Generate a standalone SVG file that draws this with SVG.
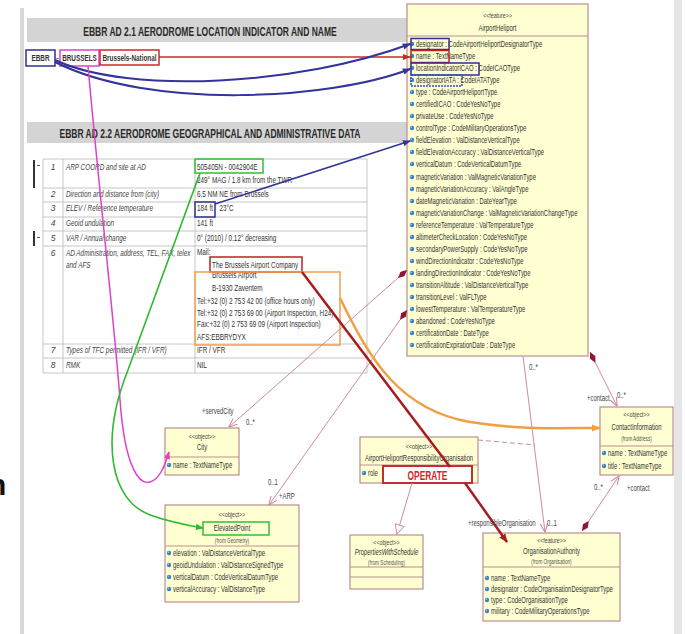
<svg xmlns="http://www.w3.org/2000/svg" width="685" height="634" viewBox="0 0 685 634">
<style>
text{font-family:"Liberation Sans",Arial,sans-serif}
.hd{font-size:13.5px;font-weight:bold;fill:#2a2a2a}
.band{fill:#d4d4d4}
.t{font-size:8.5px;fill:#333}
.ti{font-size:8.5px;fill:#444;font-style:italic}
.b{font-weight:bold}
.u{font-size:9px;fill:#333}
.st{font-size:8px;fill:#444}
.us{font-size:6.5px;fill:#555}
.c{text-anchor:middle}
.it{font-style:italic}
.box{fill:#ffffd2;stroke:#b98e8e;stroke-width:1.2}
.sep{stroke:#b98e8e;stroke-width:1}
.grid{stroke:#b8b8b8;stroke-width:.8;fill:none}
.hl{fill:none;stroke-width:1.5}
.as{fill:none;stroke:#cc8c9e;stroke-width:1}
.lab{font-size:8.5px;fill:#444}
</style>
<defs>
<g id="ic"><circle r="2.2" fill="#3b7fd0"/><circle cx="-.7" cy="-.7" r=".8" fill="#a8d0f4"/></g>
<marker id="aB" viewBox="0 0 10 10" refX="9" refY="5" markerWidth="8" markerHeight="8" markerUnits="userSpaceOnUse" orient="auto"><path d="M0,1 L10,5 L0,9 z" fill="#33339a"/></marker>
<marker id="aR" viewBox="0 0 10 10" refX="9" refY="5" markerWidth="8" markerHeight="8" markerUnits="userSpaceOnUse" orient="auto"><path d="M0,1 L10,5 L0,9 z" fill="#d02828"/></marker>
<marker id="aM" viewBox="0 0 10 10" refX="9" refY="5" markerWidth="8" markerHeight="8" markerUnits="userSpaceOnUse" orient="auto"><path d="M0,1 L10,5 L0,9 z" fill="#e040c8"/></marker>
<marker id="aG" viewBox="0 0 10 10" refX="9" refY="5" markerWidth="8" markerHeight="8" markerUnits="userSpaceOnUse" orient="auto"><path d="M0,1 L10,5 L0,9 z" fill="#30b830"/></marker>
<marker id="aO" viewBox="0 0 10 10" refX="9" refY="5" markerWidth="9" markerHeight="9" markerUnits="userSpaceOnUse" orient="auto"><path d="M0,1 L10,5 L0,9 z" fill="#f0a040"/></marker>
<marker id="aD" viewBox="0 0 10 10" refX="9" refY="5" markerWidth="9" markerHeight="9" markerUnits="userSpaceOnUse" orient="auto"><path d="M0,1 L10,5 L0,9 z" fill="#a81c1c"/></marker>
<marker id="aP" viewBox="0 0 10 10" refX="9.5" refY="5" markerWidth="9" markerHeight="9" markerUnits="userSpaceOnUse" orient="auto"><path d="M0,1 L10,5 L0,9" fill="none" stroke="#cc8c9e" stroke-width="1.2"/></marker>
<marker id="tri" viewBox="0 0 12 12" refX="11" refY="6" markerWidth="11" markerHeight="11" markerUnits="userSpaceOnUse" orient="auto"><path d="M1,1 L11,6 L1,11 z" fill="#fff" stroke="#cc8c9e" stroke-width="1"/></marker>
<marker id="dia" viewBox="0 0 12 6" refX="0" refY="3" markerWidth="12" markerHeight="6" markerUnits="userSpaceOnUse" orient="auto"><path d="M0,3 L6,0 L12,3 L6,6 z" fill="#8c1838"/></marker>
</defs>

<rect x="20" y="8" width="4" height="626" fill="#d8d8d8"/>
<rect x="674" y="0" width="8" height="634" fill="#e6e6e6"/>
<text x="-12" y="495" style="font-size:30px;font-weight:bold;fill:#111">n</text>

<g id="section21">
<rect class="band" x="27" y="18" width="380" height="24"/>
<text class="hd c" transform="translate(210,36) scale(.63,1)">EBBR AD 2.1  AERODROME LOCATION INDICATOR AND NAME</text>
<rect class="hl" x="26" y="50" width="29" height="16" stroke="#303090"/>
<text class="t b c" transform="translate(40.5,61) scale(.75,1)">EBBR</text>
<text class="t" x="56" y="61">-</text>
<rect class="hl" x="60" y="50" width="39" height="16" stroke="#e040d0"/>
<text class="t b c" transform="translate(79.5,61) scale(.75,1)">BRUSSELS</text>
<rect class="hl" x="100" y="50" width="59" height="15" stroke="#d02828"/>
<text class="t b c" transform="translate(129.5,61) scale(.75,1)">Brussels-National</text>
</g>

<g id="section22">
<rect class="band" x="27" y="122" width="380" height="21"/>
<text class="hd c" transform="translate(210,138) scale(.63,1)">EBBR AD 2.2  AERODROME GEOGRAPHICAL AND ADMINISTRATIVE DATA</text>
<path class="grid" d="M43,159H367M43,188H367M43,202H367M43,217H367M43,231H367M43,246H367M43,344H367M43,358H367M43,373H367M43,159V373M63,159V373M195,159V373M367,159V373"/>
<rect x="33" y="160" width="2" height="28" fill="#333"/>
<rect x="37" y="165" width="3" height="1" fill="#555"/>
<rect x="33" y="231" width="2" height="15" fill="#333"/>
<rect x="37" y="237" width="3" height="1" fill="#555"/>
<g class="ti c">
<text x="53" y="170">1</text><text x="53" y="197">2</text><text x="53" y="211">3</text><text x="53" y="226">4</text><text x="53" y="241">5</text><text x="53" y="256">6</text><text x="53" y="353">7</text><text x="53" y="368">8</text>
</g>
<g class="ti" transform="translate(66,0) scale(.75,1)">
<text y="170">ARP COORD and site at AD</text>
<text y="197">Direction and distance from (city)</text>
<text y="211">ELEV / Reference temperature</text>
<text y="226">Geoid undulation</text>
<text y="241">VAR / Annual change</text>
<text y="256">AD Administration, address, TEL, FAX, telex</text>
<text y="268">and AFS</text>
<text y="353">Types of TFC permitted (IFR / VFR)</text>
<text y="368">RMK</text>
</g>
<g class="t" transform="translate(197,0) scale(.75,1)">
<text y="170">505405N - 0042904E</text>
<text y="183">249° MAG / 1.8 km from the TWR</text>
<text y="197">6.5 NM NE from Brussels</text>
<text y="211">184 ft</text>
<text x="30" y="211">23°C</text>
<text y="226">141 ft</text>
<text y="241">0° (2010) / 0.12° decreasing</text>
<text y="255">Mail:</text>
<text x="20" y="268">The Brussels Airport Company</text>
<text x="20" y="278">Brussels Airport</text>
<text x="20" y="291">B-1930 Zaventem</text>
<text y="304">Tel:+32 (0) 2 753 42 00 (office hours only)</text>
<text y="316">Tel:+32 (0) 2 753 69 00 (Airport Inspection, H24)</text>
<text y="327">Fax:+32 (0) 2 753 69 09 (Airport Inspection)</text>
<text y="340">AFS:EBBRYDYX</text>
<text y="353">IFR / VFR</text>
<text y="368">NIL</text>
</g>
<rect class="hl" x="195" y="159" width="68" height="14" stroke="#30c030"/>
<rect class="hl" x="195" y="202" width="20" height="15" stroke="#303090"/>
<rect class="hl" x="210" y="257" width="92" height="15" stroke="#c02020"/>
<rect class="hl" x="195" y="272" width="145" height="73" stroke="#f0a050"/>
</g>

<g id="AirportHeliport">
<rect class="box" x="407" y="4" width="181" height="352"/>
<line class="sep" x1="407" y1="36" x2="588" y2="36"/>
<text class="st c" transform="translate(497.5,18) scale(.66,1)">&lt;&lt;feature&gt;&gt;</text>
<text class="u c" transform="translate(497.5,31) scale(.66,1)">AirportHeliport</text>
<g>
<use href="#ic" x="412" y="44"/><use href="#ic" x="412" y="56"/><use href="#ic" x="412" y="68"/><use href="#ic" x="412" y="80"/><use href="#ic" x="412" y="92"/><use href="#ic" x="412" y="104"/><use href="#ic" x="412" y="116"/><use href="#ic" x="412" y="128"/><use href="#ic" x="412" y="140"/><use href="#ic" x="412" y="152"/><use href="#ic" x="412" y="164"/><use href="#ic" x="412" y="177"/><use href="#ic" x="412" y="189"/><use href="#ic" x="412" y="201"/><use href="#ic" x="412" y="213"/><use href="#ic" x="412" y="225"/><use href="#ic" x="412" y="237"/><use href="#ic" x="412" y="249"/><use href="#ic" x="412" y="261"/><use href="#ic" x="412" y="273"/><use href="#ic" x="412" y="285"/><use href="#ic" x="412" y="297"/><use href="#ic" x="412" y="309"/><use href="#ic" x="412" y="321"/><use href="#ic" x="412" y="333"/><use href="#ic" x="412" y="345"/>
</g>
<g class="u" transform="translate(416,0) scale(.66,1)">
<text y="47">designator : CodeAirportHeliportDesignatorType</text>
<text y="59.1">name : TextNameType</text>
<text y="71.1">locationIndicatorICAO : CodeICAOType</text>
<text y="83.2">designatorIATA : CodeIATAType</text>
<text y="95.2">type : CodeAirportHeliportType</text>
<text y="107.3">certifiedICAO : CodeYesNoType</text>
<text y="119.3">privateUse : CodeYesNoType</text>
<text y="131.4">controlType : CodeMilitaryOperationsType</text>
<text y="143.4">fieldElevation : ValDistanceVerticalType</text>
<text y="155.5">fieldElevationAccuracy : ValDistanceVerticalType</text>
<text y="167.5">verticalDatum : CodeVerticalDatumType</text>
<text y="179.6">magneticVariation : ValMagneticVariationType</text>
<text y="191.6">magneticVariationAccuracy : ValAngleType</text>
<text y="203.7">dateMagneticVariation : DateYearType</text>
<text y="215.7">magneticVariationChange : ValMagneticVariationChangeType</text>
<text y="227.8">referenceTemperature : ValTemperatureType</text>
<text y="239.8">altimeterCheckLocation : CodeYesNoType</text>
<text y="251.9">secondaryPowerSupply : CodeYesNoType</text>
<text y="263.9">windDirectionIndicator : CodeYesNoType</text>
<text y="276">landingDirectionIndicator : CodeYesNoType</text>
<text y="288">transitionAltitude : ValDistanceVerticalType</text>
<text y="300.1">transitionLevel : ValFLType</text>
<text y="312.1">lowestTemperature : ValTemperatureType</text>
<text y="324.2">abandoned : CodeYesNoType</text>
<text y="336.2">certificationDate : DateType</text>
<text y="348.3">certificationExpirationDate : DateType</text>
</g>
<rect class="hl" x="411" y="38.5" width="38" height="11" stroke="#303090"/>
<rect class="hl" x="411" y="50.5" width="38" height="12" stroke="#c02020"/>
<rect class="hl" x="411" y="63" width="68" height="12" stroke="#303090"/>
<rect class="hl" x="411" y="75" width="51" height="11" stroke="#3050c0" stroke-dasharray="2 1"/>
</g>

<g id="City">
<rect class="box" x="165" y="428" width="74" height="47"/>
<line class="sep" x1="165" y1="457" x2="239" y2="457"/>
<text class="st c" transform="translate(202,439) scale(.66,1)">&lt;&lt;object&gt;&gt;</text>
<text class="u c" transform="translate(202,450) scale(.66,1)">City</text>
<use href="#ic" x="169" y="465"/>
<text class="u" transform="translate(173,468) scale(.66,1)">name : TextNameType</text>
</g>

<g id="ElevatedPoint">
<rect class="box" x="165" y="505" width="134" height="97"/>
<line class="sep" x1="165" y1="546" x2="299" y2="546"/>
<text class="st c" transform="translate(232,517) scale(.66,1)">&lt;&lt;object&gt;&gt;</text>
<text class="u c" transform="translate(232,531) scale(.66,1)">ElevatedPoint</text>
<text class="us c" transform="translate(232,543) scale(.72,1)">(from Geometry)</text>
<rect class="hl" x="203" y="522" width="66" height="13" stroke="#30c030"/>
<use href="#ic" x="169" y="553"/><use href="#ic" x="169" y="565"/><use href="#ic" x="169" y="577"/><use href="#ic" x="169" y="589"/>
<g class="u" transform="translate(173,0) scale(.66,1)">
<text y="556">elevation : ValDistanceVerticalType</text>
<text y="568">geoidUndulation : ValDistanceSignedType</text>
<text y="580">verticalDatum : CodeVerticalDatumType</text>
<text y="592">verticalAccuracy : ValDistanceType</text>
</g>
</g>

<g id="AirportHeliportResponsibilityOrganisation">
<rect class="box" x="360" y="437" width="118" height="46"/>
<line class="sep" x1="360" y1="465" x2="478" y2="465"/>
<text class="st c" transform="translate(419,449) scale(.66,1)">&lt;&lt;object&gt;&gt;</text>
<text class="u c" transform="translate(419,461) scale(.66,1)">AirportHeliportResponsibilityOrganisation</text>
<use href="#ic" x="364" y="473"/>
<text class="u" transform="translate(368,476) scale(.66,1)">role</text>
<rect x="383" y="466" width="89" height="17" fill="#fff" stroke="#c03030" stroke-width="2"/>
<text class="c" transform="translate(427.5,480) scale(.67,1)" style="font-size:12.5px;font-weight:bold;fill:#d02828">OPERATE</text>
</g>

<g id="PropertiesWithSchedule">
<rect class="box" x="350" y="535" width="73" height="54"/>
<line class="sep" x1="350" y1="567" x2="423" y2="567"/>
<line class="sep" x1="350" y1="577" x2="423" y2="577"/>
<text class="st c" transform="translate(386.5,545) scale(.66,1)">&lt;&lt;object&gt;&gt;</text>
<text class="u c it" transform="translate(386.5,555) scale(.66,1)">PropertiesWithSchedule</text>
<text class="us c" transform="translate(386.5,564.5) scale(.72,1)">(from Scheduling)</text>
</g>

<g id="OrganisationAuthority">
<rect class="box" x="483" y="533" width="137" height="88"/>
<line class="sep" x1="483" y1="567" x2="620" y2="567"/>
<text class="st c" transform="translate(551.5,543) scale(.66,1)">&lt;&lt;feature&gt;&gt;</text>
<text class="u c" transform="translate(551.5,554) scale(.66,1)">OrganisationAuthority</text>
<text class="us c" transform="translate(551.5,563.5) scale(.72,1)">(from Organisation)</text>
<use href="#ic" x="487" y="578"/><use href="#ic" x="487" y="589"/><use href="#ic" x="487" y="600"/><use href="#ic" x="487" y="611"/>
<g class="u" transform="translate(491,0) scale(.66,1)">
<text y="581">name : TextNameType</text>
<text y="592">designator : CodeOrganisationDesignatorType</text>
<text y="603">type : CodeOrganisationType</text>
<text y="614">military : CodeMilitaryOperationsType</text>
</g>
</g>

<g id="ContactInformation">
<rect class="box" x="600" y="407" width="73" height="68"/>
<line class="sep" x1="600" y1="446" x2="673" y2="446"/>
<text class="st c" transform="translate(636.5,417) scale(.66,1)">&lt;&lt;object&gt;&gt;</text>
<text class="u c" transform="translate(636.5,430) scale(.66,1)">ContactInformation</text>
<text class="us c" transform="translate(636.5,441) scale(.72,1)">(from Address)</text>
<use href="#ic" x="604" y="453"/><use href="#ic" x="604" y="466"/>
<g class="u" transform="translate(608,0) scale(.66,1)">
<text y="456">name : TextNameType</text>
<text y="469">title : TextNameType</text>
</g>
</g>

<g id="connectors">
<path class="as" d="M407,270 L229,427" marker-start="url(#dia)" marker-end="url(#aP)"/>
<path class="as" d="M407,310 L269,505" marker-start="url(#dia)" marker-end="url(#aP)"/>
<path class="as" d="M590,352 L617,406" marker-start="url(#dia)" marker-end="url(#aP)"/>
<path class="as" d="M523,356 L545,532" marker-end="url(#aP)"/>
<path class="as" d="M582,531 L619,476" marker-start="url(#dia)" marker-end="url(#aP)"/>
<path class="as" d="M478,440 L535,445" stroke-dasharray="5 3"/>
<path class="as" d="M412,483 L397,534" marker-end="url(#tri)"/>
<path d="M159,57 L410,57" fill="none" stroke="#d02828" stroke-width="1.6" marker-end="url(#aR)"/>
<path d="M55,60 C130,95 300,85 410,44" fill="none" stroke="#33339a" stroke-width="2" marker-end="url(#aB)"/>
<path d="M55,62 C150,110 330,100 410,69" fill="none" stroke="#33339a" stroke-width="2" marker-end="url(#aB)"/>
<path d="M215,204 L410,141" fill="none" stroke="#33339a" stroke-width="1.6" marker-end="url(#aB)"/>
<path d="M88,66 C100,200 115,330 120,400 C125,470 140,485 150,482 C160,479 165,465 169,452" fill="none" stroke="#e040c8" stroke-width="1.5" marker-end="url(#aM)"/>
<path d="M200,173 L128,370 C100,440 110,500 150,515 C170,522 185,525 203,528" fill="none" stroke="#30b830" stroke-width="1.6" marker-end="url(#aG)"/>
<path d="M340,298 C370,360 400,410 470,422 C520,430 560,428 600,428" fill="none" stroke="#f0a040" stroke-width="2.5" marker-end="url(#aO)"/>
<path d="M302,272 L450,467" fill="none" stroke="#a81c1c" stroke-width="2.5"/>
<path d="M465,483 L507,542" fill="none" stroke="#a81c1c" stroke-width="2.5" marker-end="url(#aD)"/>
<g class="lab">
<text transform="translate(202,414) scale(.7,1)">+servedCity</text>
<text transform="translate(246,425) scale(.7,1)">0..*</text>
<text transform="translate(268,485) scale(.7,1)">0..1</text>
<text transform="translate(279,499) scale(.7,1)">+ARP</text>
<text transform="translate(587,401) scale(.7,1)">+contact</text>
<text transform="translate(617,398) scale(.7,1)">0..*</text>
<text transform="translate(594,490) scale(.7,1)">0..*</text>
<text transform="translate(627,491) scale(.7,1)">+contact</text>
<text transform="translate(529,370) scale(.7,1)">0..*</text>
<text transform="translate(468,526) scale(.7,1)">+responsibleOrganisation</text>
<text transform="translate(547,526) scale(.7,1)">0..1</text>
</g>
</g>
</svg>
